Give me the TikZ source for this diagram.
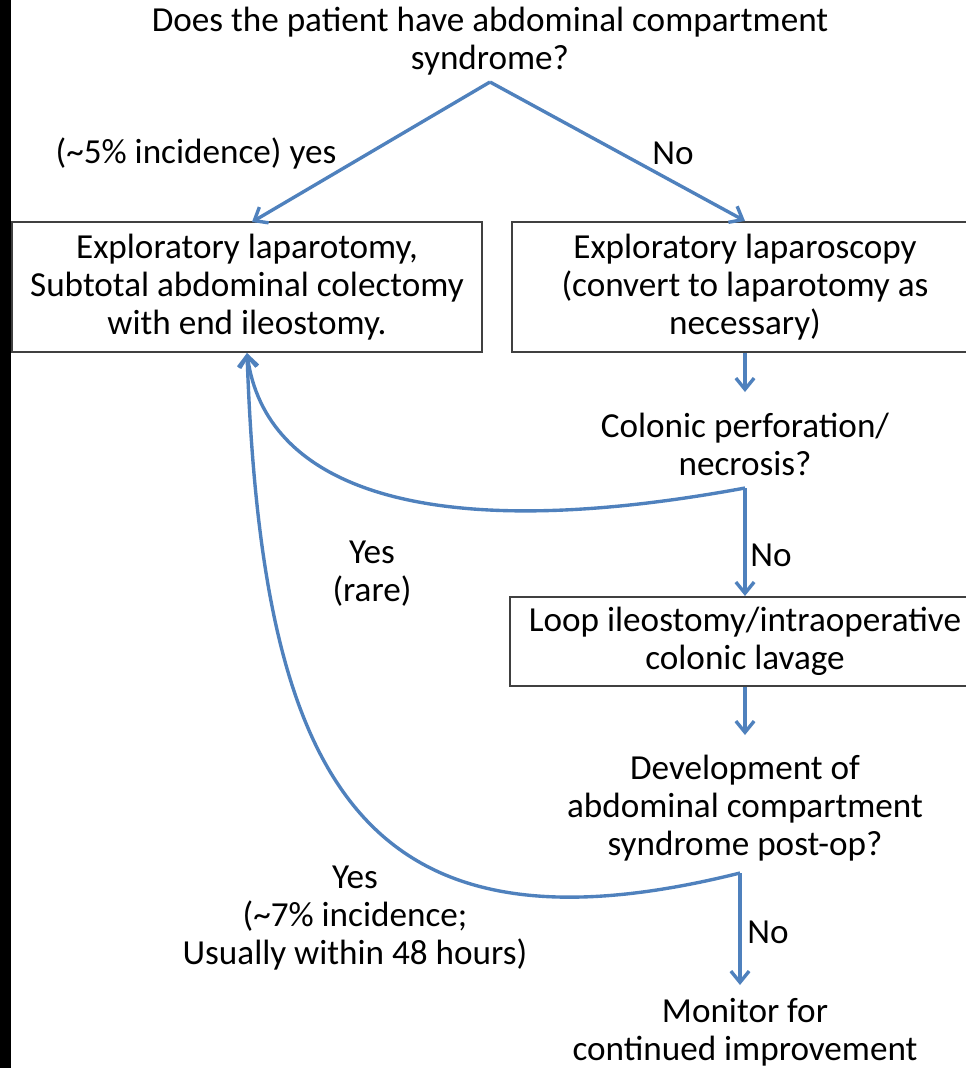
\documentclass[tikz,border=0pt]{standalone}
\usepackage{fontspec}
\setmainfont{Carlito}
\usetikzlibrary{arrows.meta}
\definecolor{flowblue}{RGB}{79,129,189}
\tikzset{
  box/.style={draw=black!75, line width=1.5pt, align=center, inner sep=0pt},
  txt/.style={align=center, inner sep=2pt},
  arr/.style={draw=flowblue, line width=2.4pt, -{Straight Barb[length=8pt,width=13pt,line width=2.4pt]}},
}
\begin{document}
\begin{tikzpicture}[x=0.025cm, y=-0.025cm, font=\fontsize{25}{27}\selectfont]
        \useasboundingbox (0,0) rectangle (966,1068);
        \clip (0,0) rectangle (966,1068);
        \fill[white] (0,0) rectangle (966,1068);
        \fill[black] (0,0) rectangle (11,1068);
        % question and the two first steps
        \node[txt] (q1) at (490,41) {Does the patient have abdominal compartment\\syndrome?};
        \node[box, minimum width=470*0.025cm, minimum height=130*0.025cm] (box1) at (247,287)
             {Exploratory laparotomy,\\Subtotal abdominal colectomy\\with end ileostomy.};
        \node[box, minimum width=466*0.025cm, minimum height=130*0.025cm] (box2) at (745,287)
             {Exploratory laparoscopy\\(convert to laparotomy as\\necessary)};
        \coordinate (qfork) at (490,82);
        \draw[arr] (qfork) -- (252,222);
        \draw[arr] (qfork) -- (box2.north);
        \node[txt] at (196,153) {(\textasciitilde5\% incidence) yes};
        \node[txt] at (673,153) {No};
        % laparoscopy branch
        \node[txt] (c1) at (745,444) {Colonic perforation/\\necrosis?};
        \draw[arr] (box2.south) -- (745,392);
        \node[box, minimum width=470*0.025cm, minimum height=89*0.025cm] (box3) at (745,641.5)
             {Loop ileostomy/intraoperative\\colonic lavage};
        \coordinate (cfork) at (745,488);
        \draw[arr] (cfork) .. controls (420,548) and (265,485) .. (box1.south);
        \draw[arr] (cfork) -- (box3.north);
        \node[txt] at (771,555) {No};
        \node[txt] at (372,574) {Yes\\(rare)};
        % post-op
        \node[txt] (d1) at (745,808) {Development of\\abdominal compartment\\syndrome post-op?};
        \draw[arr] (box3.south) -- (745,735);
        \coordinate (dfork) at (740,873);
        \node[txt] (m1) at (745,1032) {Monitor for\\continued improvement};
        \draw[arr] (dfork) -- (740,985);
        \draw[arr] (dfork) .. controls (360,968) and (262,780) .. (box1.south);
        \node[txt] at (768,932) {No};
        \node[txt] at (355,918) {Yes\\(\textasciitilde7\% incidence;\\Usually within 48 hours)};
\end{tikzpicture}
\end{document}
